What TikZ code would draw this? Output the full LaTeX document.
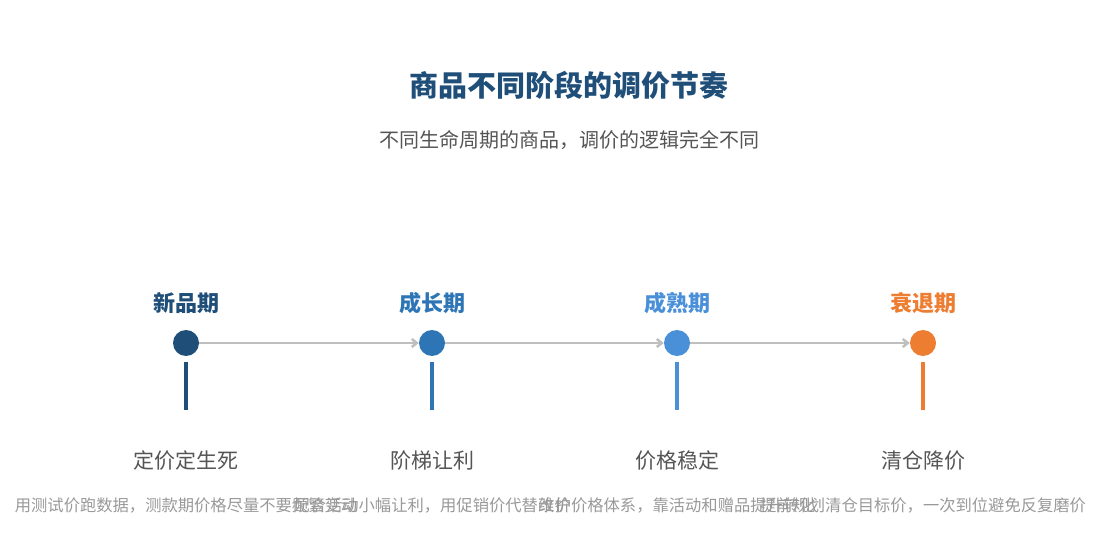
\documentclass[tikz,border=0pt]{standalone}
\usepackage{fontspec}
\setmainfont{Noto Sans CJK SC}
\usetikzlibrary{arrows.meta}
\definecolor{c1}{HTML}{1F4E79}\definecolor{c2}{HTML}{2E75B6}
\definecolor{c3}{HTML}{4A90D9}\definecolor{c4}{HTML}{ED7D31}
\definecolor{tg}{HTML}{555555}\definecolor{lg}{HTML}{999999}
\begin{document}
\begin{tikzpicture}[x=1pt,y=1pt,
 dot/.style={circle,fill=#1,minimum size=26pt,inner sep=0pt},
 stage/.style={font=\fontsize{22}{24}\selectfont\bfseries,text=#1},
 lab/.style={font=\fontsize{21}{23}\selectfont,text=tg},
 desc/.style={font=\fontsize{16.3}{18}\selectfont,text=lg},
 conn/.style={draw=black!25,line width=2.5pt,-{Straight Barb[length=5pt,width=8pt]}},
 bar/.style={draw=#1,line width=4pt}]
\useasboundingbox (0,0) rectangle (1100,555);
\node[font=\fontsize{29}{31}\selectfont\bfseries,text=c1] (t) at (569,470) {商品不同阶段的调价节奏};
\node[font=\fontsize{20}{22}\selectfont,text=tg] (s) at (569,415) {不同生命周期的商品，调价的逻辑完全不同};
\foreach \i/\x/\c/\st/\lb/\d in {1/186/c1/新品期/定价定生死/用测试价跑数据，测款期价格尽量不要频繁变动,
 2/432/c2/成长期/阶梯让利/配合活动小幅让利，用促销价代替改价,
 3/677/c3/成熟期/价格稳定/维护价格体系，靠活动和赠品提升转化,
 4/923/c4/衰退期/清仓降价/提前规划清仓目标价，一次到位避免反复磨价}{
 \node[dot=\c] (d\i) at (\x,212) {};
 \node[stage=\c] (st\i) at (\x,252) {\st};
 \coordinate (b\i) at (\x,193);
 \coordinate (e\i) at (\x,145);
 \draw[bar=\c] (b\i) -- (e\i);
 \node[lab] (l\i) at (\x,94) {\lb};
 \node[desc] (de\i) at (\x,50) {\d};
}
\draw[conn] (d1) -- (d2);
\draw[conn] (d2) -- (d3);
\draw[conn] (d3) -- (d4);
\end{tikzpicture}
\end{document}
